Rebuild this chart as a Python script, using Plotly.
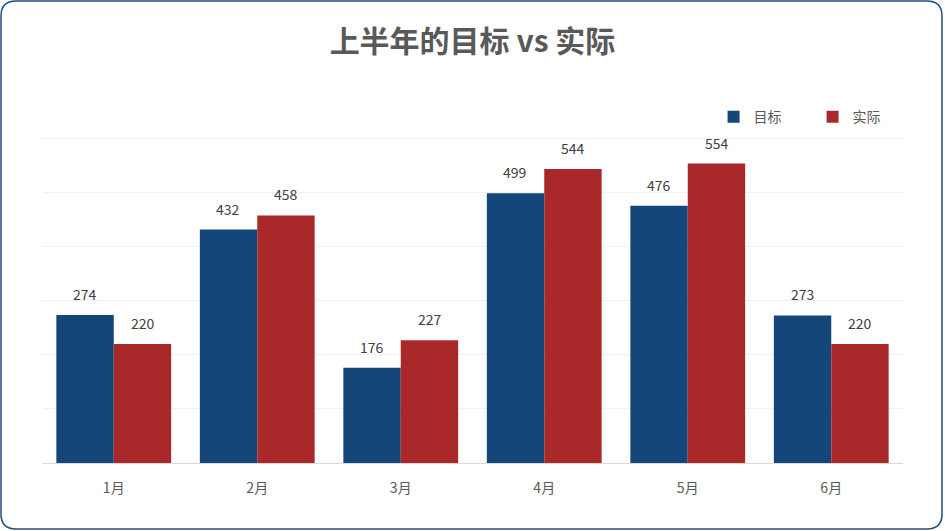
import plotly.graph_objects as go

months = ["1月", "2月", "3月", "4月", "5月", "6月"]
target = [274, 432, 176, 499, 476, 273]
actual = [220, 458, 227, 544, 554, 220]

blue = "#144679"
red = "#A9282A"
font_cn = "Noto Sans CJK SC"

fig = go.Figure()
fig.add_trace(go.Bar(name="目标", x=months, y=target, marker=dict(color=blue, line=dict(width=0))))
fig.add_trace(go.Bar(name="实际", x=months, y=actual, marker=dict(color=red, line=dict(width=0))))

# value labels above each bar
labels = []
for series, shift in [(target, -29), (actual, 29)]:
    for m, v in zip(months, series):
        labels.append(dict(x=m, y=v, xref="x", yref="y", text=str(v), showarrow=False,
                           xshift=shift, yshift=9, yanchor="bottom",
                           font=dict(size=14, color="#404040")))

# rounded frame around the whole picture, drawn in pixels from the plot corner
r = 15
x0, x1 = -41, 900
y0, y1 = -66, 462
frame = (f"M {x0+r},{y0} L {x1-r},{y0} Q {x1},{y0} {x1},{y0+r} "
         f"L {x1},{y1-r} Q {x1},{y1} {x1-r},{y1} "
         f"L {x0+r},{y1} Q {x0},{y1} {x0},{y1-r} "
         f"L {x0},{y0+r} Q {x0},{y0} {x0+r},{y0} Z")

fig.update_layout(
    width=945, height=531,
    margin=dict(l=42, r=42, t=136, b=68),
    paper_bgcolor="white", plot_bgcolor="white",
    font=dict(family=font_cn, color="#595959"),
    title=dict(text="<b>上半年的目标 vs 实际</b>", x=0.5, xanchor="center", y=0.921, yanchor="middle",
               font=dict(size=30, color="#595959", family=font_cn)),
    barmode="group", bargap=0.2, bargroupgap=0,
    showlegend=True,
    legend=dict(orientation="h", x=0.78, xanchor="left", y=1.058, yanchor="middle",
                font=dict(size=14, color="#595959"), itemwidth=30, traceorder="normal",
                entrywidth=54, entrywidthmode="pixels"),
    xaxis=dict(showgrid=False, showline=True, linecolor="#D9D9D9", linewidth=1,
               ticks="", tickfont=dict(size=14, color="#595959"), ticklabelstandoff=12),
    yaxis=dict(range=[0, 605], dtick=100, showgrid=True, gridcolor="#F0F0F0", gridwidth=1,
               showticklabels=False, zeroline=False, ticks=""),
    annotations=labels,
    shapes=[dict(type="path", path=frame, xref="paper", yref="paper", xanchor=0, yanchor=0,
                 xsizemode="pixel", ysizemode="pixel", line=dict(color="#1F4E79", width=1.5),
                 layer="above")],
)

fig.write_html("out.html", config={"displayModeBar": False},
               post_script="document.body.style.margin='0';")
